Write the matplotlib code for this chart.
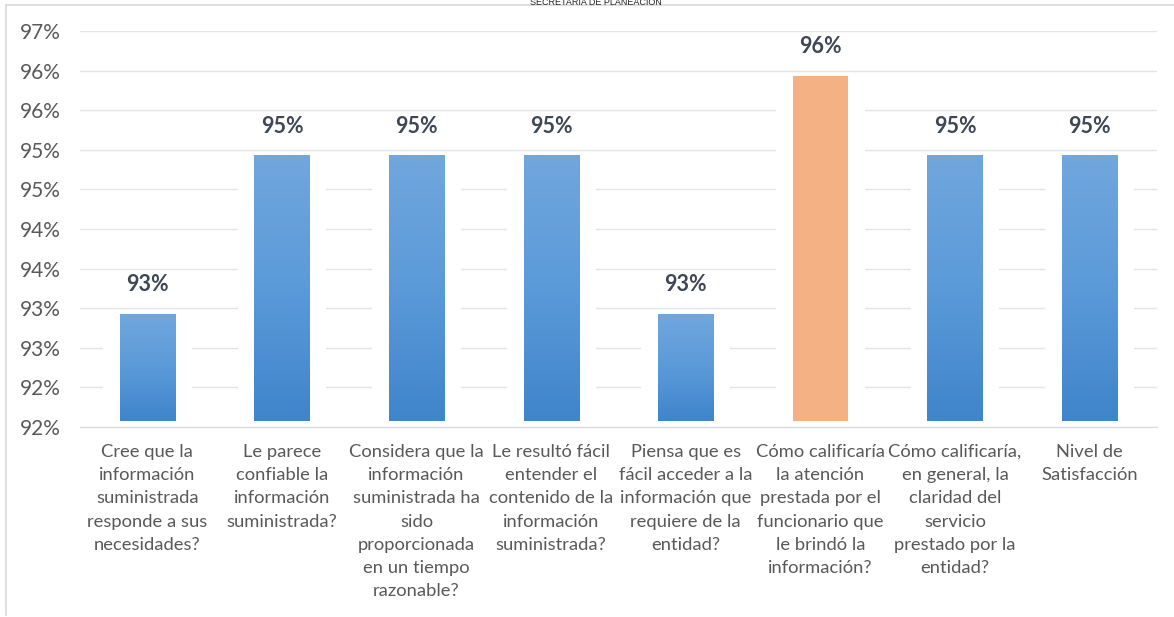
import numpy as np
import matplotlib.pyplot as plt
from matplotlib.colors import LinearSegmentedColormap
from matplotlib.lines import Line2D

# Datos de la encuesta de satisfacción
preguntas = [
    "Cree que la\ninformación\nsuministrada\nresponde a sus\nnecesidades?",
    "Le parece\nconfiable la\ninformación\nsuministrada?",
    "Considera que la\ninformación\nsuministrada ha\nsido\nproporcionada\nen un tiempo\nrazonable?",
    "Le resultó fácil\nentender el\ncontenido de la\ninformación\nsuministrada?",
    "Piensa que es\nfácil acceder a la\ninformación que\nrequiere de la\nentidad?",
    "Cómo calificaría\nla atención\nprestada por el\nfuncionario que\nle brindó la\ninformación?",
    "Cómo calificaría,\nen general, la\nclaridad del\nservicio\nprestado por la\nentidad?",
    "Nivel de\nSatisfacción",
]
porcentajes = [93.23, 95.23, 95.23, 95.23, 93.23, 96.23, 95.23, 95.23]
destacada = 5  # barra resaltada en naranja

ticks_y = [91.8, 92.3, 92.8, 93.3, 93.8, 94.3, 94.8, 95.3, 95.8, 96.3, 96.8]

plt.rcParams['font.family'] = ['Lato', 'DejaVu Sans']

W, H = 1174, 617
fig = plt.figure(figsize=(W / 100, H / 100), dpi=100)
fig.patch.set_facecolor('white')
ax = fig.add_axes([80 / W, (H - 427) / H, (1157 - 80) / W, (427 - 31) / H])

x = np.arange(len(porcentajes))
base = 91.88
alturas = [v - base for v in porcentajes]

# halo blanco que corta la cuadrícula alrededor de cada barra
ax.bar(x, alturas, bottom=base, width=0.66, color='white', zorder=2)

colores = ['#5a97d6'] * len(porcentajes)
colores[destacada] = '#f4b183'
barras = ax.bar(x, alturas, bottom=base, width=0.41, color=colores, zorder=3)

# degradado azul (claro arriba, oscuro abajo)
cmap_azul = LinearSegmentedColormap.from_list('azul', ['#3f85ca', '#5b9ad9', '#70a7dd'])
grad = np.linspace(0, 1, 256).reshape(-1, 1)
for i, b in enumerate(barras):
    if i == destacada:
        continue
    x0, y0 = b.get_x(), b.get_y()
    ax.imshow(grad, extent=[x0, x0 + b.get_width(), y0, y0 + b.get_height()],
              origin='lower', aspect='auto', cmap=cmap_azul, zorder=4)

# etiquetas de valor
for xi, v in zip(x, porcentajes):
    ax.annotate(f"{v:.0f}%", (xi, v), xytext=(0, 21), textcoords='offset points',
                ha='center', va='center', fontsize=15.5, fontweight='bold',
                color='#3e4756', zorder=5)

ax.set_xlim(-0.5, len(porcentajes) - 0.5)
ax.set_ylim(ticks_y[0], ticks_y[-1])
ax.set_yticks(ticks_y)
ax.set_yticklabels([f"{t:.0f}%" for t in ticks_y])
ax.set_xticks(x)
ax.set_xticklabels(preguntas, linespacing=1.56)

ax.yaxis.grid(True, color='#e4e4e4', linewidth=1, zorder=0)
ax.set_axisbelow(True)
for s in ['top', 'right', 'left']:
    ax.spines[s].set_visible(False)
ax.spines['bottom'].set_color('#d9d9d9')
ax.spines['bottom'].set_zorder(1)

ax.tick_params(axis='y', length=0, pad=14, labelsize=15, labelcolor='#595959')
ax.tick_params(axis='x', length=0, pad=12, labelsize=13.2, labelcolor='#595959')

# marco del gráfico
borde = '#d9d9d9'
fig.add_artist(Line2D([6 / W, 1], [1 - 5 / H, 1 - 5 / H], color=borde, lw=1.2,
                      transform=fig.transFigure))
fig.add_artist(Line2D([6 / W, 6 / W], [1 - 5 / H, 2 / H], color=borde, lw=1.2,
                      transform=fig.transFigure))

fig.text(596 / W, 1 - 5 / H, "SECRETARIA DE PLANEACION", ha='center', va='baseline',
         fontsize=6.5, family='Liberation Sans', color='#222222')

fig.savefig('out.png', dpi=100)
